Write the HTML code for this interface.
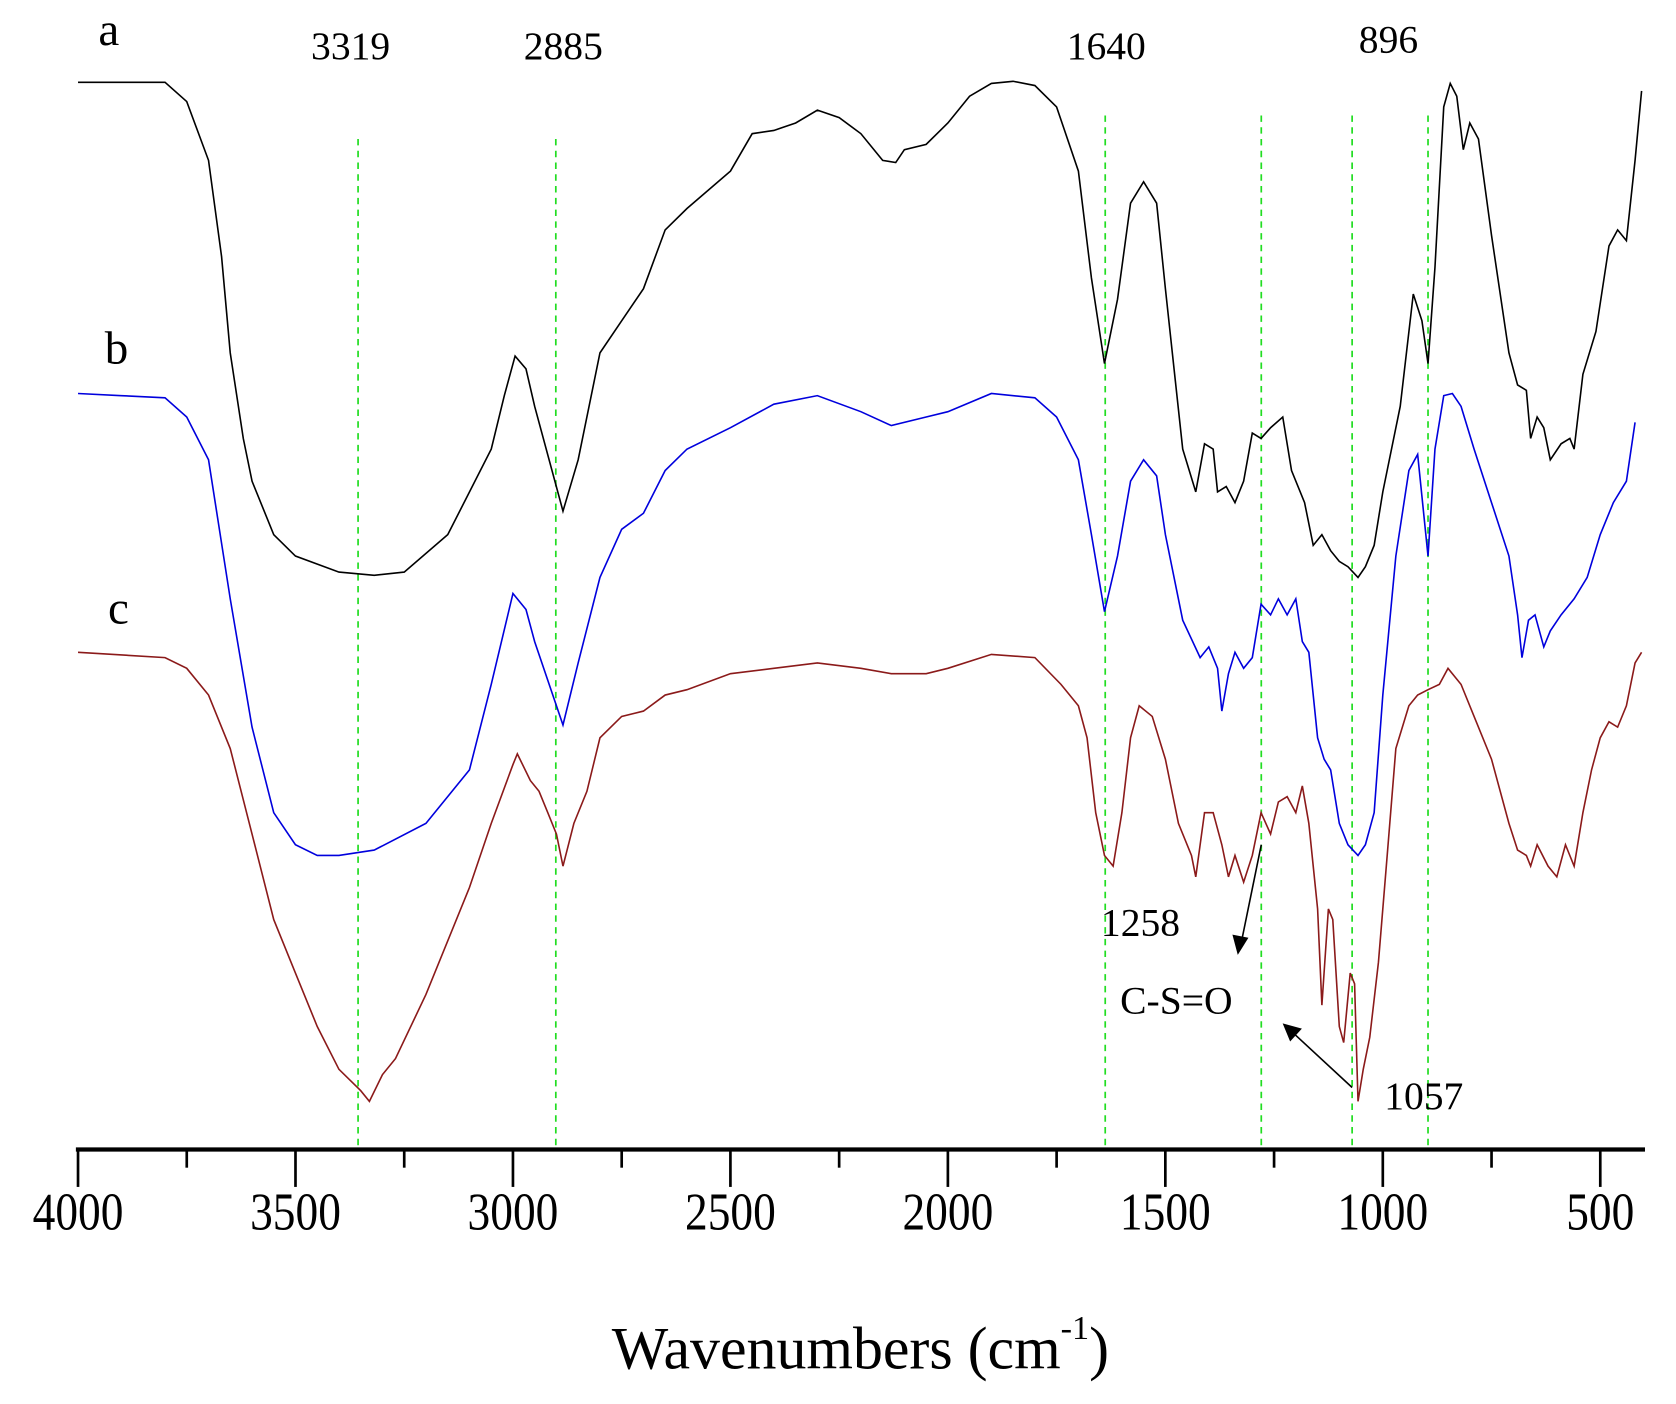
<!DOCTYPE html>
<html><head><meta charset="utf-8"><style>
html,body{margin:0;padding:0;background:#fff;}
svg{display:block;}
text{font-family:"Liberation Serif",serif;fill:#000;}
</style></head><body>
<svg id="s" width="1676" height="1404" viewBox="0 0 1568 1313" preserveAspectRatio="none" xmlns="http://www.w3.org/2000/svg">
<g stroke="#22dd22" stroke-width="1.6" stroke-dasharray="6,5">
<line x1="335" y1="130" x2="335" y2="1075"/>
<line x1="520" y1="130" x2="520" y2="1075"/>
<line x1="1034" y1="108" x2="1034" y2="1075"/>
<line x1="1180" y1="108" x2="1180" y2="1075"/>
<line x1="1265" y1="108" x2="1265" y2="1075"/>
<line x1="1336" y1="108" x2="1336" y2="1075"/>
</g>
<polyline id="ca" fill="none" stroke="#000" stroke-width="1.5"/>
<polyline id="cb" fill="none" stroke="#0000dd" stroke-width="1.5"/>
<polyline id="cc" fill="none" stroke="#8b1a1a" stroke-width="1.5"/>
<line x1="71" y1="1075" x2="1539" y2="1075" stroke="#000" stroke-width="4"/>
<g id="ticks" stroke="#000" stroke-width="2.5"></g>
<g font-size="50" text-anchor="middle" transform="scale(0.85,1)" id="tl"></g>
<text x="92" y="42" font-size="44">a</text>
<text x="98" y="340" font-size="44">b</text>
<text x="101" y="583" font-size="44">c</text>
<g font-size="37" text-anchor="middle">
<text x="328" y="55">3319</text>
<text x="527" y="55">2885</text>
<text x="1035" y="55">1640</text>
<text x="1299" y="49">896</text>
</g>
<text x="1030" y="875" font-size="37">1258</text>
<text x="1048" y="948" font-size="37" font-family="Liberation Sans,sans-serif">C-S=O</text>
<text x="1295" y="1037" font-size="37">1057</text>
<g stroke="#000" stroke-width="1.5">
<line x1="1180" y1="790" x2="1162" y2="878"/>
<line x1="1265" y1="1017" x2="1212" y2="968"/>
</g>
<polygon points="1158,893 1153,874 1168,877" fill="#000"/>
<polygon points="1200,957 1218,962 1207,974" fill="#000"/>
<text x="805" y="1280" font-size="56" text-anchor="middle">Wavenumbers (cm<tspan font-size="32" dy="-28">-1</tspan><tspan dy="28">)</tspan></text>
</svg>
<script>
function X(w){return 73+(4000-w)*0.4069;}
function P(arr){var s=[];for(var i=0;i<arr.length;i+=2)s.push(X(arr[i]).toFixed(1)+","+arr[i+1]);return s.join(" ");}
var a=[4000,77,3800,77,3750,95,3700,150,3670,240,3650,330,3620,410,3600,450,3550,500,3500,520,3400,535,3319,538,3250,535,3150,500,3050,420,3020,370,2995,333,2970,345,2950,380,2885,478,2850,430,2800,330,2750,300,2700,270,2650,215,2600,195,2500,160,2450,125,2400,122,2350,115,2300,103,2250,110,2200,125,2150,150,2120,152,2100,140,2050,135,2000,115,1950,90,1900,78,1850,76,1800,80,1750,100,1700,160,1670,260,1640,340,1610,280,1580,190,1550,170,1520,190,1500,270,1460,420,1430,460,1410,415,1390,420,1380,460,1360,455,1340,470,1320,450,1300,405,1280,410,1258,400,1230,390,1210,440,1180,470,1160,510,1140,500,1120,515,1100,525,1080,530,1057,540,1040,530,1020,510,1000,460,960,380,930,275,910,300,896,340,880,250,860,100,845,78,830,90,815,140,800,115,780,130,750,220,710,330,690,360,670,365,660,410,645,390,630,400,615,430,590,415,570,410,560,420,540,350,510,310,480,230,460,215,440,225,420,150,405,85];
var b=[4000,368,3900,370,3800,372,3750,390,3700,430,3650,560,3600,680,3550,760,3500,790,3450,800,3400,800,3319,795,3200,770,3100,720,3050,640,3000,555,2970,570,2950,600,2885,678,2850,620,2800,540,2750,495,2700,480,2650,440,2600,420,2500,400,2400,378,2300,370,2200,385,2130,398,2050,390,2000,385,1900,368,1800,372,1750,390,1700,430,1670,500,1640,572,1610,520,1580,450,1550,430,1520,445,1500,500,1460,580,1420,615,1400,605,1380,625,1370,665,1355,630,1340,610,1320,625,1300,615,1280,565,1258,575,1240,560,1220,575,1200,560,1185,600,1170,610,1150,690,1135,710,1120,720,1100,770,1080,790,1057,800,1040,790,1020,760,1000,650,970,520,940,440,920,425,896,520,880,420,860,370,840,368,820,380,790,420,750,470,710,520,690,575,680,615,665,580,650,575,630,605,615,590,590,575,560,560,530,540,500,500,470,470,440,450,420,395];
var c=[4000,610,3800,615,3750,625,3700,650,3650,700,3600,780,3550,860,3500,910,3450,960,3400,1000,3350,1020,3330,1030,3300,1005,3270,990,3200,930,3100,830,3050,770,3000,715,2990,705,2960,730,2940,740,2920,760,2900,780,2885,810,2860,770,2830,740,2800,690,2750,670,2700,665,2650,650,2600,645,2500,630,2400,625,2300,620,2200,625,2130,630,2050,630,2000,625,1900,612,1800,615,1740,640,1700,660,1680,690,1660,760,1640,800,1620,810,1600,760,1580,690,1560,660,1530,670,1500,710,1470,770,1440,800,1430,820,1410,760,1390,760,1370,790,1355,820,1340,800,1320,825,1300,800,1280,760,1258,780,1240,750,1220,745,1200,760,1185,735,1170,770,1150,850,1140,940,1125,850,1115,860,1100,960,1090,975,1075,910,1065,920,1057,1030,1045,1000,1030,970,1010,900,990,800,970,700,940,660,920,650,896,645,870,640,850,625,820,640,790,670,750,710,710,770,690,795,670,800,660,810,645,790,620,810,600,820,580,790,560,810,540,760,520,720,500,690,480,675,460,680,440,660,420,620,405,610];
document.getElementById('ca').setAttribute('points',P(a));
document.getElementById('cb').setAttribute('points',P(b));
document.getElementById('cc').setAttribute('points',P(c));
var t='',l='';
for(var w=4000;w>=500;w-=250){var x=X(w);var maj=(w%500==0);t+='<line x1="'+x+'" y1="1075" x2="'+x+'" y2="'+(maj?1110:1092)+'"/>';
if(maj)l+='<text x="'+(x/0.85)+'" y="1150">'+w+'</text>';}
document.getElementById('ticks').innerHTML=t;
document.getElementById('tl').innerHTML=l;
</script>
</body></html>
